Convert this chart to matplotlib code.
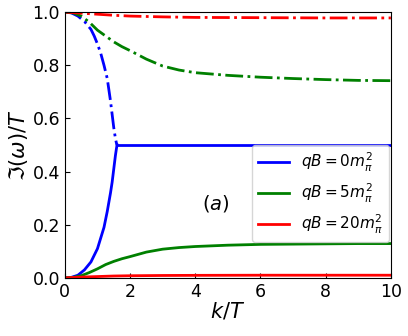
import matplotlib
matplotlib.use("Agg")
import matplotlib.pyplot as plt

k_blue_branch = [0.0, 0.2, 0.4, 0.6, 0.8, 0.9, 1.0, 1.1, 1.2, 1.3, 1.4, 1.45, 1.5, 1.55, 1.58, 1.6]
blue_dashdot = [1.0, 0.997, 0.985, 0.965, 0.935, 0.91, 0.88, 0.845, 0.80, 0.75, 0.665, 0.615, 0.565, 0.525, 0.508, 0.5]
blue_solid_rise = [0.0, 0.002, 0.01, 0.03, 0.06, 0.085, 0.11, 0.15, 0.19, 0.25, 0.32, 0.36, 0.41, 0.46, 0.485, 0.5]
k_blue_flat = [1.6, 10.0]
blue_flat = [0.5, 0.5]

k_green = [0.0, 0.25, 0.5, 0.75, 1.0, 1.25, 1.5, 1.75, 2.0, 2.5, 3.0, 3.5, 4.0, 5.0, 6.0, 7.0, 8.0, 9.0, 10.0]
green_dashdot = [1.0, 0.997, 0.985, 0.962, 0.932, 0.91, 0.888, 0.87, 0.855, 0.823, 0.797, 0.782, 0.772, 0.762, 0.755, 0.75, 0.746, 0.743, 0.742]
green_solid = [0.0, 0.002, 0.008, 0.02, 0.034, 0.05, 0.062, 0.072, 0.08, 0.097, 0.108, 0.114, 0.118, 0.123, 0.126, 0.127, 0.128, 0.129, 0.129]

k_red = [0.0, 0.5, 1.0, 1.5, 2.0, 3.0, 4.0, 6.0, 8.0, 10.0]
red_dashdot = [1.0, 0.996, 0.992, 0.988, 0.985, 0.982, 0.98, 0.979, 0.978, 0.978]
red_solid = [0.0, 0.003, 0.005, 0.007, 0.008, 0.009, 0.0095, 0.01, 0.01, 0.01]

labels = [r"$qB=0m_\pi^2$", r"$qB=5m_\pi^2$", r"$qB=20m_\pi^2$"]

fig = plt.figure(figsize=(4.08, 3.36), dpi=100)
ax = fig.add_axes([0.159, 0.173, 0.799, 0.791])
lw = 2.0
ax.plot(k_blue_branch, blue_solid_rise, color="blue", lw=lw, label=labels[0])
ax.plot(k_blue_flat, blue_flat, color="blue", lw=lw)
ax.plot(k_blue_branch, blue_dashdot, color="blue", lw=lw, ls="-.")
ax.plot(k_green, green_solid, color="green", lw=lw, label=labels[1])
ax.plot(k_green, green_dashdot, color="green", lw=lw, ls="-.")
ax.plot(k_red, red_solid, color="red", lw=lw, label=labels[2])
ax.plot(k_red, red_dashdot, color="red", lw=lw, ls="-.")

ax.set_xlim(0, 10)
ax.set_ylim(0, 1.0)
ax.set_xticks([0, 2, 4, 6, 8, 10])
ax.set_yticks([0.0, 0.2, 0.4, 0.6, 0.8, 1.0])
ax.tick_params(direction="in", labelsize=12.5)
ax.set_xlabel(r"$k/T$", fontsize=15, labelpad=0)
ax.set_ylabel(r"$\Im(\omega)/T$", fontsize=15, labelpad=2)
ax.text(4.63, 0.28, r"$(a)$", fontsize=14, ha="center", va="center")
ax.legend(loc="center right", bbox_to_anchor=(0.993, 0.318), borderaxespad=0,
          fontsize=11, framealpha=0.8)
fig.savefig("out.png", dpi=100)
